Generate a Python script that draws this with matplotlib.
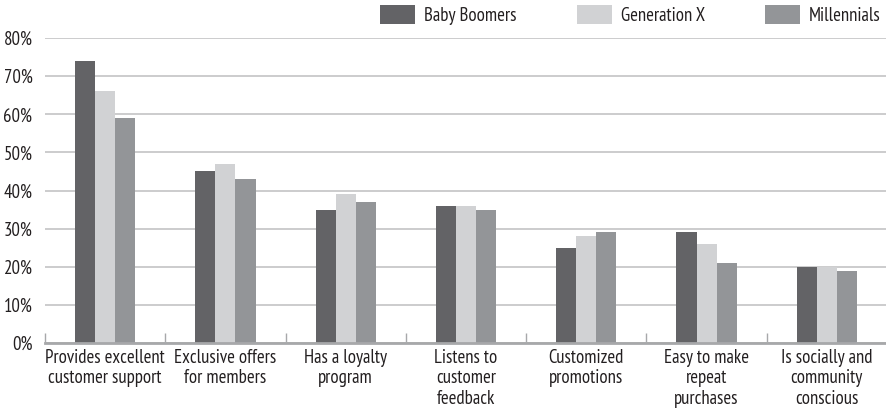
import matplotlib
matplotlib.use("Agg")
import matplotlib.pyplot as plt
from matplotlib.ticker import FixedLocator, PercentFormatter
from matplotlib import font_manager
import numpy as np

categories = [
    "Provides excellent\ncustomer support",
    "Exclusive offers\nfor members",
    "Has a loyalty\nprogram",
    "Listens to\ncustomer\nfeedback",
    "Customized\npromotions",
    "Easy to make\nrepeat\npurchases",
    "Is socially and\ncommunity\nconscious",
]
series_names = ["Baby Boomers", "Generation X", "Millennials"]
baby_boomers = [74, 45, 35, 36, 25, 29, 20]
generation_x = [66, 47, 39, 36, 28, 26, 20]
millennials = [59, 43, 37, 35, 29, 21, 19]
colors = ["#636366", "#d1d2d4", "#939598"]

# pick a condensed sans face, falling back to DejaVu Sans
installed = {f.name for f in font_manager.fontManager.ttflist}
preferred = ["PT Sans Narrow", "Fira Sans Condensed", "Roboto Condensed",
             "Open Sans Condensed", "Encode Sans Condensed", "Archivo Narrow",
             "Liberation Sans Narrow"]
family = next((f for f in preferred if f in installed), "DejaVu Sans")
plt.rcParams["font.family"] = [family, "DejaVu Sans"]
plt.rcParams["font.size"] = 13.5
text_color = "#231f20"

fig = plt.figure(figsize=(8.87, 4.12), dpi=100)
ax = fig.add_axes([45 / 887, 69 / 412, 842 / 887, 305 / 412])

x = np.arange(len(categories))
width = 0.167
for i, (vals, name) in enumerate(zip([baby_boomers, generation_x, millennials], series_names)):
    ax.bar(x + (i - 1) * width, vals, width, color=colors[i], label=name, zorder=3)

ax.set_xlim(-0.5, len(categories) - 0.5)
ax.set_ylim(0, 80)
ax.yaxis.set_major_locator(FixedLocator(np.arange(0, 81, 10)))
ax.yaxis.set_major_formatter(PercentFormatter(decimals=0))
ax.grid(axis="y", color="#c8c8c9", linewidth=1.3, zorder=0)
for s in ["top", "right", "left"]:
    ax.spines[s].set_visible(False)
ax.spines["bottom"].set_color("#a7a8aa")
ax.spines["bottom"].set_linewidth(2)
ax.spines["bottom"].set_zorder(4)

ax.tick_params(axis="y", length=0, pad=9, labelcolor=text_color)
ax.set_xticks(x)
ax.set_xticklabels(categories, color=text_color, linespacing=1.18)
ax.tick_params(axis="x", length=0, pad=4)

# category boundary ticks pointing up from the axis
ax.set_xticks(np.arange(-0.5, len(categories), 1.0), minor=True)
ax.tick_params(axis="x", which="minor", direction="in", length=7, width=1, color="#a7a8aa")

leg = fig.legend(
    loc="upper right", bbox_to_anchor=(881 / 887, 1 - 5 / 412), ncol=3, frameon=False,
    handlelength=1.85, handleheight=1.2, handletextpad=0.5, columnspacing=3.2,
    borderaxespad=0, borderpad=0,
)
for t in leg.get_texts():
    t.set_color(text_color)

fig.savefig("out.png", dpi=100)
